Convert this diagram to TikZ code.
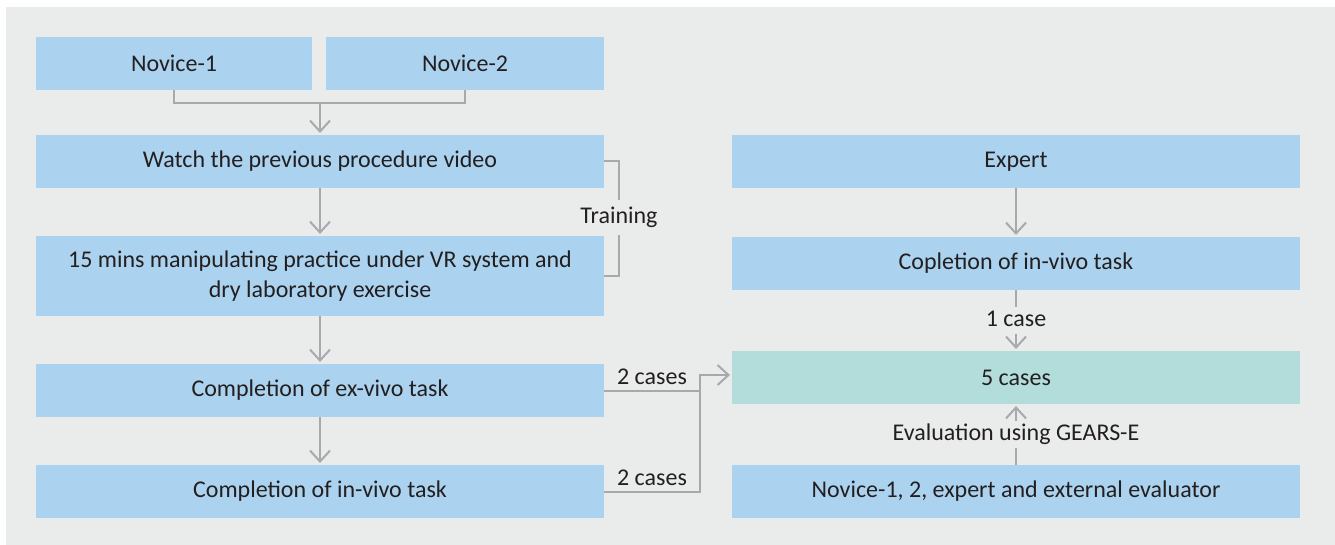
\documentclass[tikz,border=0pt]{standalone}
\usepackage{fontspec}
\setmainfont{Carlito}
\usetikzlibrary{positioning,arrows.meta}

\definecolor{boxblue}{RGB}{171,211,239}
\definecolor{boxteal}{RGB}{178,221,219}
\definecolor{panel}{RGB}{234,236,236}
\definecolor{wire}{RGB}{167,169,172}
\definecolor{ink}{RGB}{35,31,32}

\begin{document}
\begin{tikzpicture}[x=1pt,y=-1pt,->,>={Straight Barb[length=11pt,width=20pt]},shorten >=2pt,line width=2pt,
    main node/.style={fill=boxblue,minimum width=568pt,minimum height=53pt,inner sep=0pt,outer sep=0pt,align=center,text=ink,font=\fontsize{24}{30}\selectfont},
    tag/.style={fill=panel,text=ink,font=\fontsize{24}{30}\selectfont,inner sep=3pt,text height=16pt,text depth=5pt},
    case tag/.style={above,text=ink,font=\fontsize{24}{30}\selectfont,inner sep=5pt},
    plain/.style={-,shorten >=0pt}]
    \useasboundingbox (0,0) rectangle (1335,545);
    \fill[panel] (6,7) rectangle (1335,545);

    % novices' side
    \node[main node,minimum width=276pt] (n1) at (174,63.5) {Novice-1};
    \node[main node,minimum width=278pt] (n2) [right=14pt of n1] {Novice-2};
    \node[main node] (watch) at (320,161.5) {Watch the previous procedure video};
    \node[main node,minimum height=80pt] (practice) [below=48pt of watch] {15 mins manipulating practice under VR system and\\dry laboratory exercise};
    \node[main node] (exvivo) [below=48pt of practice] {Completion of ex-vivo task};
    \node[main node] (invivo) [below=48pt of exvivo] {Completion of in-vivo task};

    % expert's side
    \node[main node] (expert) at (1016,161.5) {Expert};
    \node[main node] (expinvivo) [below=49pt of expert] {Copletion of in-vivo task};
    \node[main node,fill=boxteal] (cases) [below=61pt of expinvivo] {5 cases};
    \node[main node] (raters) [below=61pt of cases] {Novice-1, 2, expert and external evaluator};

    \coordinate (split) at (320,103);
    \coordinate (merge) at (700,375);

    \draw[plain,color=wire] (n1.south) |- (split) -| (n2.south);
    \draw[plain,color=wire] (watch.east) -- ++(15,0) |- node[tag,pos=0.245,inner ysep=7pt] {Training} (practice.east);
    \draw[plain,color=wire] (exvivo.east) -- node[case tag] {2 cases} (exvivo.east -| merge);
    \draw[color=wire] (invivo.east) -- node[case tag] {2 cases} (invivo.east -| merge) -- (merge) -- (merge -| cases.west);

    \path[color=wire]
        (split) edge (watch)
        (watch) edge (practice)
        (practice) edge (exvivo)
        (exvivo) edge (invivo)
        (expert) edge (expinvivo)
        (expinvivo) edge node[tag] {1 case} (cases)
        (raters) edge node[tag] {Evaluation using GEARS-E} (cases)
        ;

\end{tikzpicture}
\end{document}
